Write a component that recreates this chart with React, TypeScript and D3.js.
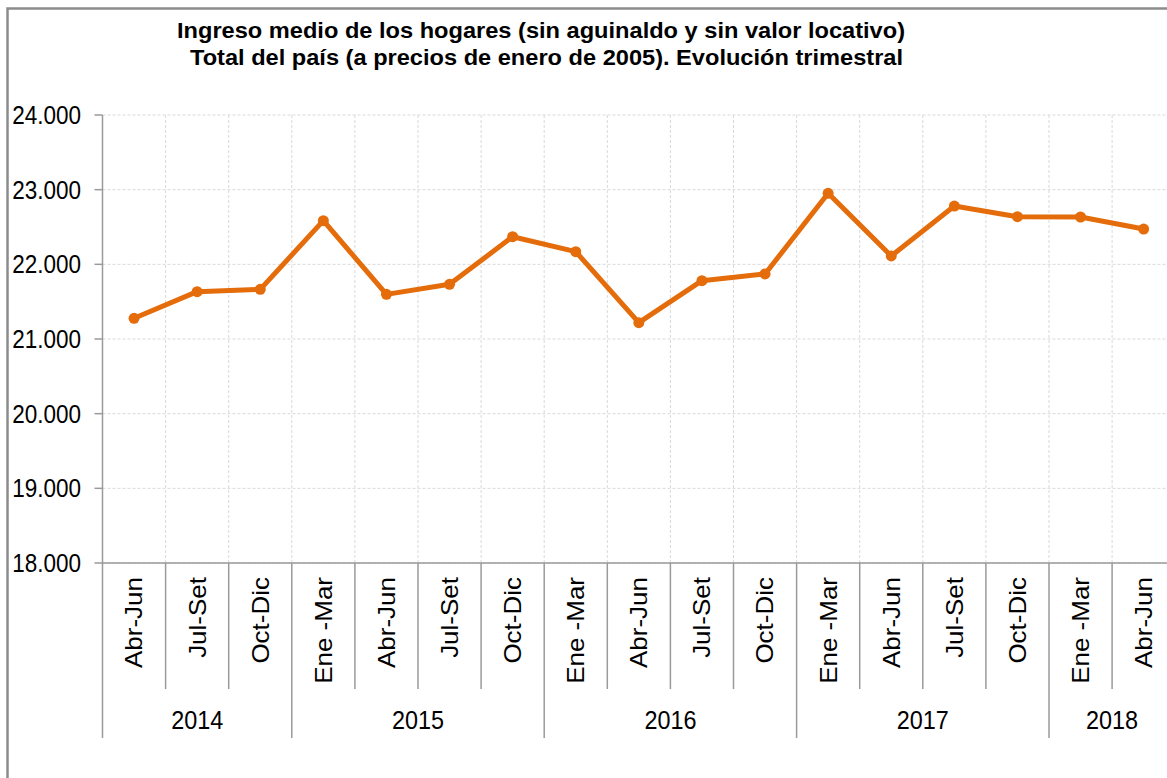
import React from "react";
import * as d3 from "d3";

const years = ["2014", "2015", "2016", "2017", "2018"];
const periods = [
  ["Abr-Jun", "Jul-Set", "Oct-Dic"],
  ["Ene -Mar", "Abr-Jun", "Jul-Set", "Oct-Dic"],
  ["Ene -Mar", "Abr-Jun", "Jul-Set", "Oct-Dic"],
  ["Ene -Mar", "Abr-Jun", "Jul-Set", "Oct-Dic"],
  ["Ene -Mar", "Abr-Jun"],
];
const values = [
  21277, 21634, 21665, 22585, 21598, 21732, 22370, 22170, 21219, 21781, 21871,
  22951, 22112, 22781, 22638, 22634, 22473,
];
const yTicks = [18000, 19000, 20000, 21000, 22000, 23000, 24000];
const titleLines = [
  "Ingreso medio de los hogares (sin aguinaldo y sin valor locativo)",
  "Total del país (a precios de enero de 2005). Evolución trimestral",
];

const W = 1167;
const H = 778;
const left = 102.5;
const catW = 63.1;
const top = 115;
const bottom = 563;

export default function App() {
  const cats: { label: string; year: string; idx: number }[] = [];
  years.forEach((y, yi) =>
    periods[yi].forEach((p) => cats.push({ label: p, year: y, idx: cats.length }))
  );
  const x = d3
    .scaleBand<number>()
    .domain(cats.map((c) => c.idx))
    .range([left, left + catW * cats.length])
    .padding(0);
  const y = d3.scaleLinear().domain([18000, 24000]).range([bottom, top]);
  const cx = (i: number) => (x(i) as number) + x.bandwidth() / 2;

  const line = d3
    .line<number>()
    .x((_, i) => cx(i))
    .y((d) => y(d));

  const fmt = (v: number) => d3.format(",")(v).replace(/,/g, ".");

  // year group boundaries
  const yearBounds: { year: string; start: number; end: number }[] = [];
  let s = 0;
  years.forEach((yr, yi) => {
    yearBounds.push({ year: yr, start: s, end: s + periods[yi].length });
    s += periods[yi].length;
  });
  const yearStartIdx = new Set(yearBounds.map((b) => b.start));
  const xRight = left + catW * cats.length;
  const font = "'Liberation Sans', Arial, sans-serif";
  const sx = 0.9;

  return (
    <svg
      width={W}
      height={H}
      style={{ position: "absolute", left: 0, top: 0, background: "#fff" }}
      fontFamily={font}
    >
      <rect x={0} y={0} width={W} height={H} fill="#fff" />
      {/* outer border */}
      <rect x={7.5} y={8.5} width={W + 20} height={H + 20} fill="none" stroke="#8c8c8c" strokeWidth={2.5} />
      {/* title */}
      <text x={177} y={38} fontSize={22} fontWeight="bold" textLength={728} lengthAdjust="spacingAndGlyphs" fill="#000">
        {titleLines[0]}
      </text>
      <text x={190} y={65} fontSize={22} fontWeight="bold" textLength={713} lengthAdjust="spacingAndGlyphs" fill="#000">
        {titleLines[1]}
      </text>

      {/* horizontal gridlines */}
      {yTicks.map((t) => (
        <line
          key={"hg" + t}
          x1={left}
          x2={xRight}
          y1={y(t)}
          y2={y(t)}
          stroke="#d9d9d9"
          strokeDasharray="3,2"
          strokeWidth={1}
        />
      ))}
      {/* vertical gridlines */}
      {cats.map((c) =>
        c.idx === 0 ? null : (
          <line
            key={"vg" + c.idx}
            x1={x(c.idx) as number}
            x2={x(c.idx) as number}
            y1={top}
            y2={bottom}
            stroke="#d9d9d9"
            strokeDasharray="3,2"
            strokeWidth={1}
          />
        )
      )}

      {/* y axis */}
      <line x1={left} x2={left} y1={top} y2={738} stroke="#9a9a9a" strokeWidth={1.5} />
      {yTicks.map((t) => (
        <g key={"yt" + t}>
          <line x1={left - 8} x2={left} y1={y(t)} y2={y(t)} stroke="#9a9a9a" strokeWidth={1.5} />
          <text
            transform={`translate(81,${y(t)}) scale(${sx},1)`}
            textAnchor="end"
            dy="0.36em"
            fontSize={25}
            fill="#000"
          >
            {fmt(t)}
          </text>
        </g>
      ))}

      {/* x axis */}
      <line x1={left} x2={xRight} y1={bottom} y2={bottom} stroke="#9a9a9a" strokeWidth={1.5} />
      {cats.map((c) =>
        c.idx === 0 ? null : (
          <line
            key={"xd" + c.idx}
            x1={x(c.idx) as number}
            x2={x(c.idx) as number}
            y1={bottom}
            y2={yearStartIdx.has(c.idx) ? 738 : 689}
            stroke="#9a9a9a"
            strokeWidth={1.5}
          />
        )
      )}
      {cats.map((c) => (
        <text
          key={"xl" + c.idx}
          transform={`translate(${cx(c.idx)},577) scale(${sx},1) rotate(-90)`}
          textAnchor="end"
          dy="0.36em"
          fontSize={26}
          fill="#000"
        >
          {c.label}
        </text>
      ))}
      {yearBounds.map((b) => (
        <text
          key={"yr" + b.year}
          transform={`translate(${((x(b.start) as number) + left + catW * b.end) / 2},729) scale(${sx},1)`}
          textAnchor="middle"
          fontSize={26}
          fill="#000"
        >
          {b.year}
        </text>
      ))}

      {/* series */}
      <path d={line(values) || ""} fill="none" stroke="#e46c0a" strokeWidth={5} strokeLinejoin="round" />
      {values.map((v, i) => (
        <circle key={"pt" + i} cx={cx(i)} cy={y(v)} r={5.5} fill="#e46c0a" />
      ))}
    </svg>
  );
}
